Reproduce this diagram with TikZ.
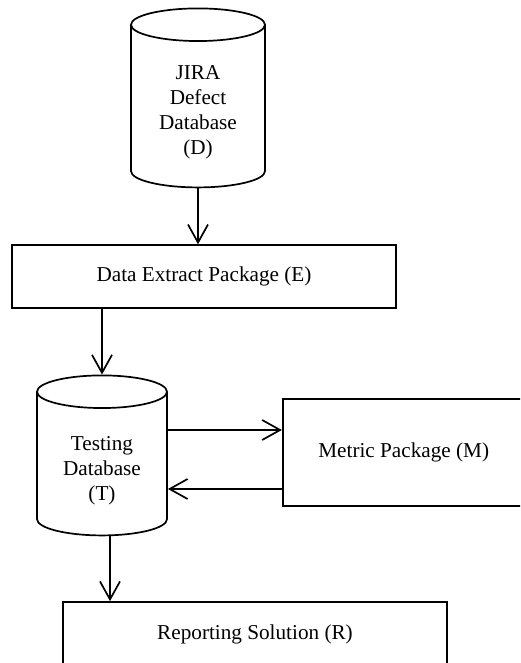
\documentclass[tikz,border=0pt]{standalone}
\usepackage{fontspec}
\setmainfont{Liberation Serif}
\usetikzlibrary{shapes.geometric, arrows.meta, positioning}

\newcommand{\dbtext}[1]{\raisebox{-3pt}[\height][\depth]{\begin{tabular}{@{}c@{}}#1\end{tabular}}}

\begin{document}
\begin{tikzpicture}[
  x=0.5pt, y=-0.5pt,
  font=\fontsize{10.6}{12.5}\selectfont,
  db/.style={cylinder, shape border rotate=90, aspect=0.42, draw, line width=0.85pt, inner sep=0pt},
  box/.style={rectangle, draw, line width=0.85pt, align=center, inner sep=0pt},
  arrow/.style={-{Straight Barb[length=9pt, width=10pt]}, line width=0.85pt},
]
\useasboundingbox (0,0) rectangle (520,663);
\clip (0,0) rectangle (520,663);

\node[db, minimum width=67pt, minimum height=89.5pt] (D) at (198,106.5) {\dbtext{JIRA\\Defect\\Database\\(D)}};
\node[box, minimum width=192pt, minimum height=31.5pt, below=28pt of D, xshift=3pt] (E) {Data Extract Package (E)};
\node[db, minimum width=65pt, minimum height=80pt] (T) at (102,464) {\dbtext{Testing\\Database\\(T)}};
\node[box, minimum width=121pt, minimum height=53.5pt, right=57pt of T, yshift=5.75pt] (M) {Metric Package (M)};
\node[box, minimum width=192pt, minimum height=32pt] (R) at (255,634) {Reporting Solution (R)};

\draw[arrow] (D.south) -- (D.south |- E.north);
\draw[arrow] (T.north |- E.south) -- (T.north);
\draw[arrow] ([yshift=11.25pt]M.west -| T.east) -- ([yshift=11.25pt]M.west);
\draw[arrow] ([yshift=-18.25pt]M.west) -- ([yshift=-18.25pt]M.west -| T.east);
\draw[arrow] ([xshift=4pt]T.south) -- ([xshift=4pt]T.south |- R.north);
\end{tikzpicture}
\end{document}
